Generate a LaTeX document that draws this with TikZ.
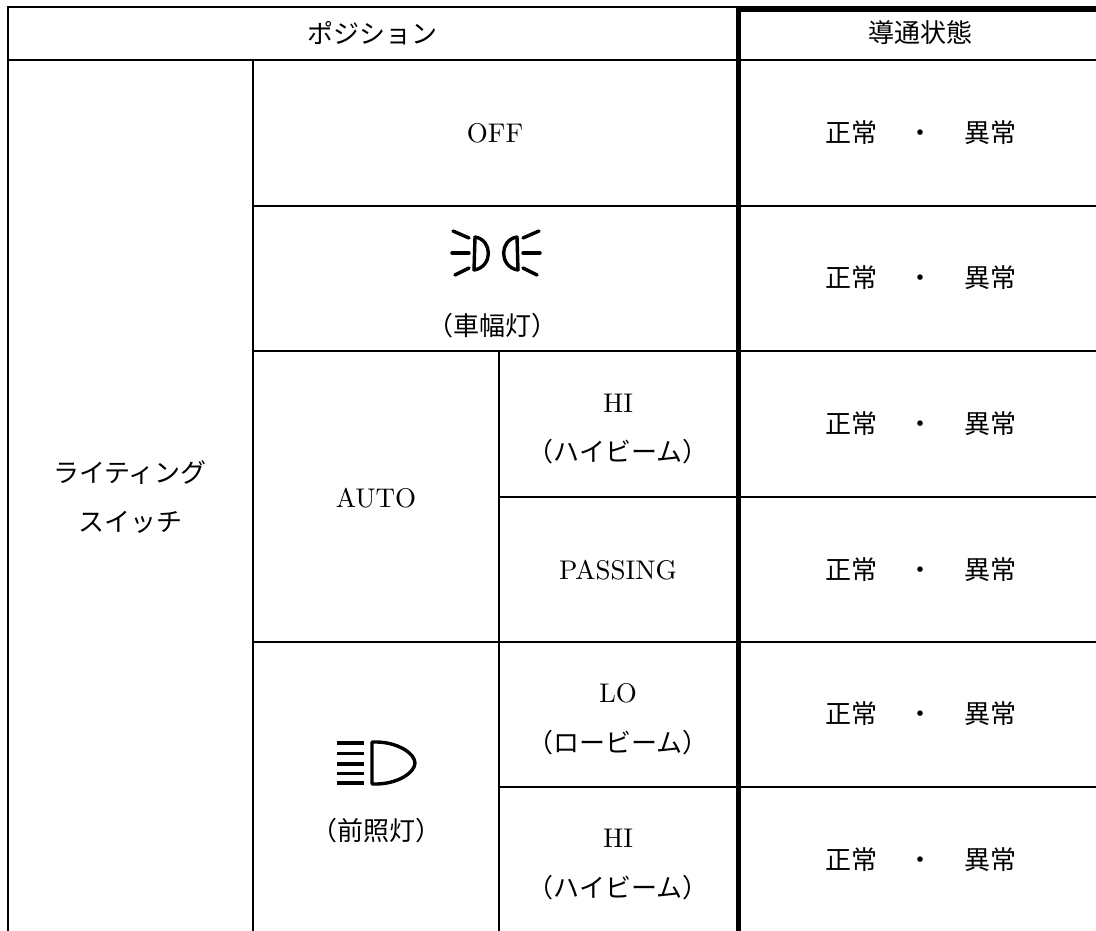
\documentclass[tikz,border=0pt]{standalone}
\usepackage{fontspec}
\newfontfamily\jp{Noto Sans CJK JP}
\newfontfamily\lat[Extension=.otf]{lmroman10-regular}
\begin{document}
\begin{tikzpicture}[x=1pt,y=-1pt,
  gridline/.style={line width=2.2pt,line cap=rect},
  heavyline/.style={line width=5.6pt},
  iconline/.style={line width=3.4pt,line cap=round,line join=round},
  jtext/.style={inner sep=0pt,font=\jp\fontsize{26}{30}\selectfont},
  ltext/.style={inner sep=0pt,font=\lat\fontsize{27}{32}\selectfont},
  state/.style={inner sep=0pt,font=\jp\fontsize{26}{30}\selectfont}]
\useasboundingbox[fill=white] (0,0) rectangle (1096,931);
% grid
\draw[gridline] (8,7) -- (738,7);
\draw[heavyline] (738,8.8) -- (1100,8.8);
\draw[gridline] (8,7) -- (8,935);
\draw[gridline] (8,60.3) -- (1100,60.3);
\draw[gridline] (253,60.3) -- (253,935);
\draw[gridline] (499,351) -- (499,935);
\draw[gridline] (253,206) -- (1100,206);
\draw[gridline] (253,351) -- (1100,351);
\draw[gridline] (499,497) -- (1100,497);
\draw[gridline] (253,642) -- (1100,642);
\draw[gridline] (499,787) -- (1100,787);
\draw[heavyline] (738.5,6) -- (738.5,935);
% header
\node[jtext] (hpos) at (372,33) {ポジション};
\node[jtext] (hstate) at (920,33) {導通状態};
% left column
\node[jtext] (sw1) at (130,473) {ライティング};
\node[jtext] (sw2) at (130,522) {スイッチ};
% OFF
\node[ltext] (off) at (495,133) {OFF};
% side lamp icon
\begin{scope}[iconline]
  \draw (475,237) -- (474,270);
  \draw (475,237) .. controls (493,240) and (493,267) .. (474,270);
  \draw (469,238) -- (453,231);
  \draw (469,253) -- (452,253);
  \draw (469,268) -- (455,275);
  \draw (517,237) -- (518,270);
  \draw (517,237) .. controls (499,240) and (499,267) .. (518,270);
  \draw (523,238) -- (539,231);
  \draw (523,253) -- (540,253);
  \draw (523,268) -- (537,275);
\end{scope}
\node[jtext] (side) at (492,326) {（車幅灯）};
% AUTO
\node[ltext] (auto) at (376,498) {AUTO};
\node[ltext] (hi1) at (618,403) {HI};
\node[jtext] (hi1j) at (618,452) {（ハイビーム）};
\node[ltext] (pass) at (618,570) {PASSING};
% head lamp
\begin{scope}[iconline]
  \foreach \yy in {743,753.5,764,773.5,783}
    \draw[line width=3.4pt,line cap=butt] (337,\yy) -- (364,\yy);
  \draw (372,742) .. controls (398,741) and (415,754) .. (415,763)
        .. controls (415,772) and (398,785) .. (372,784) -- cycle;
\end{scope}
\node[jtext] (head) at (376,831) {（前照灯）};
\node[ltext] (lo) at (618,693) {LO};
\node[jtext] (loj) at (618,743) {（ロービーム）};
\node[ltext] (hi2) at (618,838) {HI};
\node[jtext] (hi2j) at (618,888) {（ハイビーム）};
% states
\foreach \yy/\nm in {133/s1,278/s2,424/s3,570/s4,714/s5,860/s6}
  \node[state] (\nm) at (920.5,\yy) {正常\hspace{31pt}・\hspace{30pt}異常};
\end{tikzpicture}
\end{document}
